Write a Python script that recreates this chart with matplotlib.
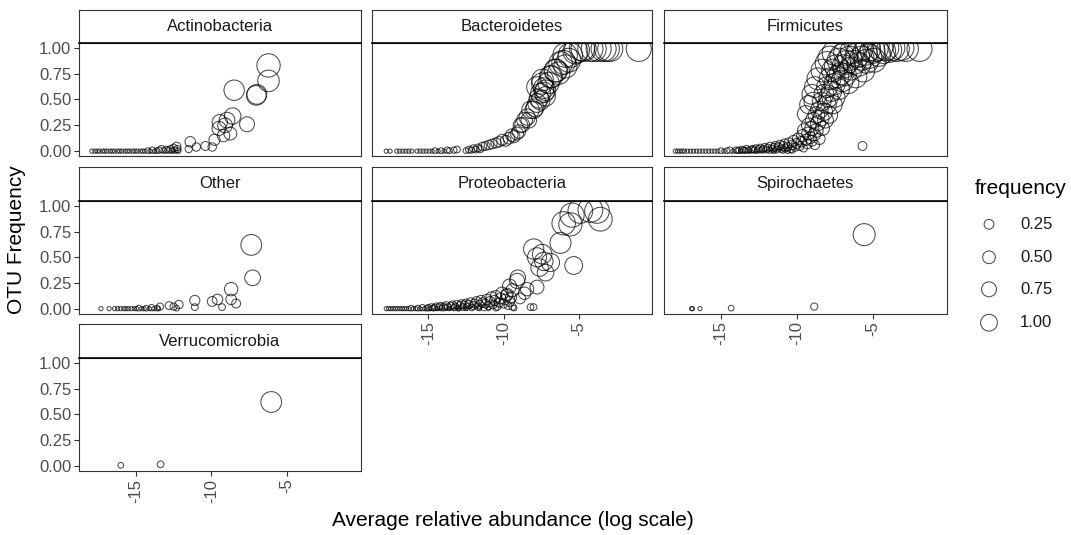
import matplotlib
matplotlib.use("Agg")
import matplotlib.pyplot as plt
import numpy as np

plt.rcParams['font.family'] = ['Liberation Sans', 'DejaVu Sans']

# ---------------- data (x = log relative abundance, f = OTU frequency) ----------------
phyla = ["Actinobacteria", "Bacteroidetes", "Firmicutes", "Other",
         "Proteobacteria", "Spirochaetes", "Verrucomicrobia"]

actinobacteria = [
    (-17.9, 0), (-17.7, 0), (-17.55, 0), (-17.4, 0), (-17.2, 0), (-17.05, 0), (-16.9, 0), (-16.7, 0),
    (-16.55, 0), (-16.4, 0), (-16.2, 0), (-16.05, 0), (-15.9, 0), (-15.7, 0), (-15.55, 0), (-15.4, 0),
    (-15.2, 0), (-15.05, 0), (-14.9, 0), (-14.7, 0), (-14.55, 0), (-14.4, 0), (-14.2, 0.005), (-14.05, 0),
    (-13.9, 0.01), (-13.75, 0), (-13.6, 0.005), (-13.45, 0.01), (-13.3, 0.02), (-13.15, 0.005),
    (-13.0, 0.015), (-12.85, 0.01), (-12.7, 0.02), (-12.6, 0.005), (-12.5, 0.03), (-12.4, 0.01),
    (-12.3, 0.045), (-12.25, 0.02), (-12.2, 0.005),
    (-11.4, 0.09), (-11.5, 0.02), (-11.0, 0.04), (-10.4, 0.05), (-9.95, 0.04), (-9.8, 0.11),
    (-9.5, 0.22), (-9.45, 0.28), (-9.2, 0.15), (-9.1, 0.25), (-8.97, 0.30), (-8.75, 0.17),
    (-8.6, 0.34), (-8.5, 0.59), (-7.65, 0.26), (-7.04, 0.54), (-7.0, 0.55), (-6.23, 0.68), (-6.23, 0.83),
]

bacteroidetes = [
    (-17.8, 0), (-17.55, 0), (-17.1, 0), (-16.9, 0), (-16.7, 0), (-16.5, 0), (-16.3, 0), (-16.1, 0),
    (-15.75, 0), (-15.55, 0), (-15.35, 0), (-15.15, 0), (-14.95, 0), (-14.75, 0), (-14.55, 0.005),
    (-14.35, 0), (-14.15, 0.005), (-13.95, 0), (-13.75, 0.01), (-13.6, 0.005), (-13.3, 0.01),
    (-13.1, 0.015), (-12.5, 0.005), (-12.3, 0.015), (-12.15, 0.01), (-12.0, 0.025), (-11.85, 0.015),
    (-11.7, 0.03), (-11.55, 0.02), (-11.4, 0.045), (-11.2, 0.05), (-10.97, 0.06), (-10.75, 0.07),
    (-10.5, 0.08), (-10.3, 0.09), (-10.08, 0.11), (-9.85, 0.1), (-9.64, 0.125), (-9.45, 0.155),
    (-9.31, 0.14), (-9.1, 0.17), (-8.98, 0.19), (-8.87, 0.25), (-8.76, 0.255), (-8.6, 0.30),
    (-8.43, 0.33), (-8.32, 0.30), (-8.2, 0.40), (-7.99, 0.40), (-7.9, 0.42), (-7.77, 0.465),
    (-7.77, 0.62), (-7.65, 0.51), (-7.54, 0.49), (-7.54, 0.56), (-7.43, 0.655), (-7.4, 0.69),
    (-7.32, 0.61), (-7.3, 0.57), (-7.2, 0.59), (-7.2, 0.53), (-7.0, 0.66), (-6.88, 0.72),
    (-6.8, 0.72), (-6.55, 0.78), (-6.5, 0.78), (-6.33, 0.755), (-6.2, 0.85), (-6.0, 0.86),
    (-5.9, 0.93), (-5.88, 0.82), (-5.66, 0.88), (-5.55, 0.93), (-5.22, 0.965), (-5.11, 0.98),
    (-4.78, 0.995), (-4.67, 0.99), (-4.22, 0.99), (-4.0, 0.99), (-3.67, 0.99), (-3.34, 0.99),
    (-3.12, 0.99), (-2.9, 0.99), (-1.0, 0.99),
]

firmicutes = [
    (-18.0, 0), (-17.85, 0), (-17.7, 0), (-17.55, 0), (-17.4, 0), (-17.2, 0), (-17.0, 0), (-16.8, 0),
    (-16.6, 0), (-16.4, 0), (-16.2, 0), (-16.0, 0), (-15.8, 0), (-15.6, 0), (-15.4, 0), (-15.2, 0),
    (-15.0, 0.005), (-14.8, 0), (-14.6, 0.005), (-14.4, 0.01), (-14.2, 0), (-14.0, 0.01),
    (-13.9, 0.005), (-13.8, 0.01), (-13.7, 0.0), (-13.6, 0.015), (-13.5, 0.01), (-13.4, 0.005),
    (-13.3, 0.02), (-13.2, 0.01), (-13.1, 0.0), (-13.0, 0.015), (-12.9, 0.02), (-12.8, 0.01),
    (-12.7, 0.025), (-12.6, 0.005), (-12.5, 0.02), (-12.4, 0.03), (-12.3, 0.01), (-12.2, 0.02),
    (-12.1, 0.035), (-12.0, 0.015), (-11.9, 0.03), (-11.8, 0.01), (-11.75, 0.045), (-11.6, 0.02),
    (-11.5, 0.035), (-11.4, 0.05), (-11.3, 0.015), (-11.2, 0.04), (-11.1, 0.06), (-11.0, 0.025),
    (-10.9, 0.05), (-10.8, 0.07), (-10.75, 0.03), (-10.6, 0.045), (-10.5, 0.08), (-10.4, 0.02),
    (-10.3, 0.06), (-10.2, 0.1), (-10.1, 0.04), (-10.0, 0.075), (-10.9, 0.01), (-11.5, 0.005),
    (-10.6, 0.005), (-10.3, 0.01),
    (-9.9, 0.12), (-9.8, 0.05), (-9.7, 0.09), (-9.6, 0.15), (-9.55, 0.03), (-9.5, 0.2), (-9.4, 0.11),
    (-9.3, 0.07), (-9.25, 0.17), (-9.2, 0.25), (-9.1, 0.13), (-9.0, 0.1), (-9.0, 0.22), (-8.9, 0.3),
    (-8.85, 0.16), (-8.8, 0.06), (-8.7, 0.35), (-8.7, 0.2), (-8.6, 0.27), (-8.5, 0.12), (-8.5, 0.4),
    (-8.4, 0.32), (-8.35, 0.48), (-8.3, 0.22), (-8.2, 0.55), (-8.2, 0.38), (-8.1, 0.3), (-8.0, 0.45),
    (-8.0, 0.62), (-7.9, 0.52), (-7.85, 0.35), (-7.8, 0.7), (-7.7, 0.58), (-7.6, 0.45), (-7.6, 0.78),
    (-7.5, 0.65), (-7.45, 0.52), (-7.4, 0.82), (-7.3, 0.72), (-7.2, 0.6), (-7.2, 0.88), (-7.1, 0.75),
    (-7.0, 0.68), (-7.0, 0.92), (-6.9, 0.82), (-6.8, 0.74), (-6.75, 0.95), (-6.7, 0.86), (-6.6, 0.66),
    (-6.5, 0.9), (-6.4, 0.8), (-6.3, 0.97), (-6.2, 0.86), (-6.1, 0.72), (-6.0, 0.93), (-5.9, 0.84),
    (-5.8, 0.99), (-5.7, 0.9), (-5.6, 0.78), (-5.5, 0.95), (-5.4, 0.87), (-5.3, 0.99), (-5.2, 0.92),
    (-5.0, 0.97), (-4.9, 0.88), (-4.8, 0.99), (-4.6, 0.94), (-4.5, 1.0), (-4.3, 0.97), (-4.1, 1.0),
    (-3.9, 0.98), (-3.7, 1.0), (-3.4, 0.99), (-3.1, 1.0), (-2.8, 0.99), (-1.9, 0.99),
    (-5.66, 0.05),
    (-9.2, 0.45), (-9.0, 0.55), (-8.8, 0.62), (-8.6, 0.7), (-8.3, 0.78), (-8.0, 0.85),
    (-7.8, 0.9), (-7.5, 0.95), (-9.4, 0.36), (-8.9, 0.48),
]

other = [
    (-17.3, 0), (-16.76, 0), (-16.4, 0), (-16.2, 0), (-16.0, 0), (-15.8, 0), (-15.65, 0), (-15.5, 0),
    (-15.3, 0), (-15.1, 0), (-14.95, 0), (-14.8, 0.005), (-14.6, 0), (-14.45, 0), (-14.3, 0.005),
    (-14.1, 0), (-13.95, 0.01), (-13.8, 0), (-13.6, 0.005), (-13.5, 0), (-13.4, 0.02), (-12.8, 0.03),
    (-12.5, 0.02), (-12.3, 0.005), (-12.15, 0.04), (-11.1, 0.08), (-11.1, 0.015), (-9.95, 0.07),
    (-9.6, 0.09), (-9.3, 0.015), (-8.7, 0.19), (-8.7, 0.09), (-8.37, 0.05), (-7.28, 0.30), (-7.37, 0.62),
]

proteobacteria = [
    (-17.8, 0), (-17.65, 0), (-17.5, 0), (-17.35, 0), (-17.2, 0), (-17.05, 0), (-16.9, 0), (-16.75, 0),
    (-16.6, 0), (-16.45, 0), (-16.3, 0), (-16.15, 0.005), (-16.0, 0), (-15.85, 0), (-15.7, 0.005),
    (-15.55, 0), (-15.4, 0.01), (-15.25, 0), (-15.1, 0.005),
    (-15.0, 0.01), (-14.9, 0), (-14.8, 0.015), (-14.7, 0.005), (-14.6, 0.01), (-14.5, 0.02), (-14.4, 0),
    (-14.3, 0.015), (-14.2, 0.025), (-14.1, 0.005), (-14.0, 0.02), (-13.9, 0.01), (-13.8, 0.03),
    (-13.7, 0.015), (-13.6, 0.0), (-13.5, 0.025), (-13.4, 0.035), (-13.3, 0.01), (-13.2, 0.02),
    (-13.1, 0.04), (-13.0, 0.005), (-12.9, 0.03), (-12.8, 0.045), (-12.7, 0.015), (-12.6, 0.035),
    (-12.5, 0.05), (-12.4, 0.02), (-12.3, 0.04), (-12.2, 0.06), (-12.1, 0.01), (-12.0, 0.03),
    (-11.9, 0.05), (-11.8, 0.07), (-11.7, 0.02), (-11.6, 0.04), (-11.5, 0.08), (-11.4, 0.06),
    (-11.3, 0.01), (-11.2, 0.05), (-11.1, 0.09), (-11.0, 0.03), (-10.9, 0.07), (-10.8, 0.11),
    (-10.7, 0.04), (-10.6, 0.08), (-10.5, 0.12), (-10.4, 0.02), (-10.3, 0.06), (-10.2, 0.1),
    (-10.1, 0.15), (-10.0, 0.05), (-9.9, 0.09), (-9.8, 0.13), (-9.7, 0.03), (-9.6, 0.07),
    (-9.5, 0.11), (-9.4, 0.02), (-9.3, 0.005), (-11.6, 0.0), (-11.0, 0.0), (-10.5, 0.005),
    (-12.5, 0.0), (-13.0, 0.0),
    (-9.76, 0.14), (-9.1, 0.27), (-9.05, 0.30), (-8.43, 0.19), (-8.2, 0.015), (-8.0, 0.015),
    (-7.77, 0.21), (-7.99, 0.58), (-7.77, 0.5), (-7.43, 0.53), (-7.32, 0.46), (-7.2, 0.35),
    (-6.88, 0.45), (-6.21, 0.64), (-5.33, 0.42), (-6.0, 0.83), (-5.55, 0.82), (-5.44, 0.91),
    (-4.89, 0.95), (-4.22, 0.96), (-3.56, 0.87), (-3.78, 0.95), (-9.4, 0.18), (-8.9, 0.1),
    (-8.6, 0.15), (-9.6, 0.22), (-7.6, 0.4),
]

spirochaetes = [
    (-16.93, 0.0), (-16.87, 0.0), (-16.38, 0.0), (-14.32, 0.005), (-8.84, 0.02), (-5.55, 0.72),
]

verrucomicrobia = [
    (-15.99, 0.005), (-13.36, 0.015), (-6.05, 0.62),
]

panel_data = [actinobacteria, bacteroidetes, firmicutes, other,
              proteobacteria, spirochaetes, verrucomicrobia]

x_ticks = [-15, -10, -5]
y_ticks = [0.0, 0.25, 0.5, 0.75, 1.0]
legend_breaks = [0.25, 0.50, 0.75, 1.00]

# ---------------- layout ----------------
W, H = 1071, 535
fig = plt.figure(figsize=(W / 100, H / 100), dpi=100)

def px_axes(left, top, right, bottom):
    return fig.add_axes([left / W, 1 - bottom / H, (right - left) / W, (bottom - top) / H])

cols = [(79, 361), (372, 652), (664, 946.5)]
rows_plot = [(42.7, 156.3), (200.7, 313.8), (357.7, 471)]
rows_strip = [(9.5, 42.7), (167.0, 200.7), (324.3, 357.7)]

K_PLOT = 4.2   # px per size unit in panels
K_LEG = 2.8    # px per size unit in legend

def size_pts2(f, k):
    d_px = k * (1 + 5 * np.sqrt(np.asarray(f, dtype=float)))
    return (d_px * 0.72) ** 2

border_col = "#333333"
tick_col = "#4D4D4D"

bottom_panels = {4, 5, 6}

for i, (name, pts) in enumerate(zip(phyla, panel_data)):
    r, c = divmod(i, 3)
    ax = px_axes(cols[c][0], rows_plot[r][0], cols[c][1], rows_plot[r][1])
    xs = np.array([p[0] for p in pts])
    fs = np.array([p[1] for p in pts])
    ax.scatter(xs, fs, s=size_pts2(fs, K_PLOT), facecolors="none",
               edgecolors="black", linewidths=0.75, alpha=0.7)
    ax.set_xlim(-18.75, -0.12)
    ax.set_ylim(-0.05, 1.05)
    ax.set_xticks(x_ticks)
    ax.set_yticks(y_ticks)
    ax.set_xticklabels([str(t) for t in x_ticks], rotation=90, fontsize=12, color=tick_col)
    ax.set_yticklabels([f"{t:.2f}" for t in y_ticks], fontsize=12, color=tick_col)
    ax.tick_params(axis="both", length=3.5, width=0.8, color=border_col, pad=2)
    if c != 0:
        ax.tick_params(axis="y", left=False, labelleft=False)
    if i not in bottom_panels:
        ax.tick_params(axis="x", bottom=False, labelbottom=False)
    for sp in ax.spines.values():
        sp.set_color(border_col)
        sp.set_linewidth(0.8)

    sax = px_axes(cols[c][0], rows_strip[r][0], cols[c][1], rows_strip[r][1])
    sax.set_xticks([])
    sax.set_yticks([])
    sax.set_facecolor("white")
    for sp in sax.spines.values():
        sp.set_color(border_col)
        sp.set_linewidth(0.8)
    sax.spines["bottom"].set_color("black")
    sax.spines["bottom"].set_linewidth(1.2)
    sax.text(0.5, 0.5, name, ha="center", va="center", fontsize=12,
             color="#1A1A1A", transform=sax.transAxes)

# axis titles
fig.text(512.5 / W, 1 - 521 / H, "Average relative abundance (log scale)",
         ha="center", va="center", fontsize=15, color="black")
fig.text(17 / W, 1 - 240 / H, "OTU Frequency", rotation=90,
         ha="center", va="center", fontsize=15, color="black")

# legend
lax = fig.add_axes([0, 0, 1, 1], facecolor="none")
lax.set_xlim(0, W)
lax.set_ylim(H, 0)
lax.axis("off")
leg_y = [224.3, 257.3, 289.3, 322.7]
lax.scatter([989] * len(legend_breaks), leg_y, s=size_pts2(legend_breaks, K_LEG),
            facecolors="none", edgecolors="black", linewidths=0.75, alpha=0.7)
for b, yy in zip(legend_breaks, leg_y):
    lax.text(1020, yy, f"{b:.2f}", ha="left", va="center", fontsize=12, color="#1A1A1A")
lax.text(975, 188, "frequency", ha="left", va="center", fontsize=15, color="black")

fig.savefig("out.png", dpi=100)
